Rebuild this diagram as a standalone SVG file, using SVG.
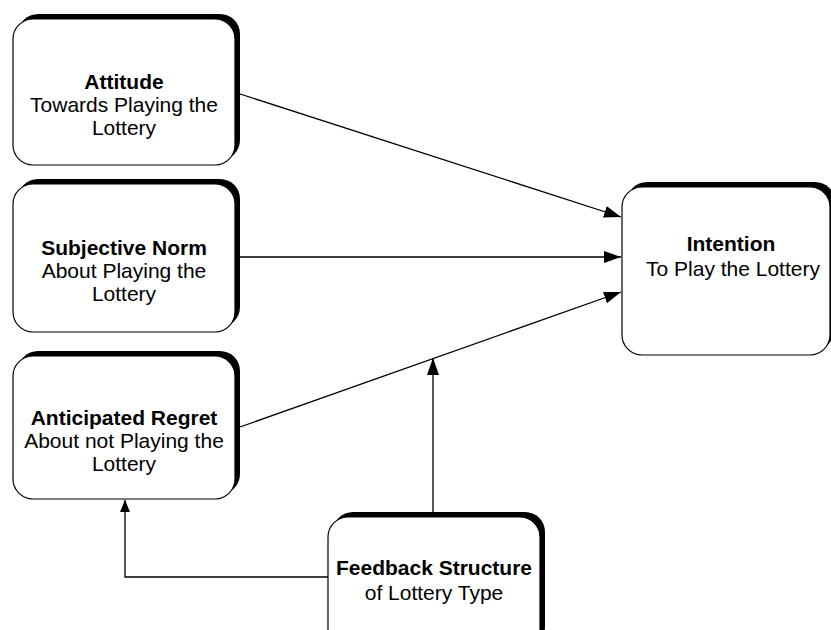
<svg xmlns="http://www.w3.org/2000/svg" width="831" height="630" viewBox="0 0 831 630">
<style>
.sh{fill:#000;}
.bx{fill:#fff;stroke:#000;stroke-width:1.2;}
.t{font-family:"Liberation Sans",Arial,sans-serif;font-size:21px;fill:#000;text-anchor:middle;}
.b{font-weight:bold;}
.ln{fill:none;stroke:#000;stroke-width:1.3;}
</style>
<defs>
<marker id="ah" markerUnits="userSpaceOnUse" markerWidth="18" markerHeight="14" refX="17" refY="6" orient="auto"><path d="M0,0 L17,6 L0,12 Z" fill="#000"/></marker>
<marker id="ahs" markerUnits="userSpaceOnUse" markerWidth="14" markerHeight="12" refX="12" refY="5" orient="auto"><path d="M0,0 L12,5 L0,10 Z" fill="#000"/></marker>
</defs>
<g id="connectors">
<line class="ln" x1="240" y1="94" x2="621" y2="217" marker-end="url(#ah)"/>
<line class="ln" x1="240" y1="257" x2="621" y2="257" marker-end="url(#ah)"/>
<line class="ln" x1="240" y1="427" x2="621" y2="292" marker-end="url(#ah)"/>
<line class="ln" x1="433" y1="512" x2="433" y2="358" marker-end="url(#ah)"/>
<polyline class="ln" points="328,577 125,577 125,500" marker-end="url(#ahs)"/>
</g>
<g id="attitude">
<rect class="sh" x="18" y="14" width="222" height="146" rx="20"/>
<rect class="bx" x="13" y="19" width="222" height="146" rx="20"/>
<text class="t b" x="124" y="89">Attitude</text>
<text class="t" x="124" y="112">Towards Playing the</text>
<text class="t" x="124" y="135">Lottery</text>
</g>
<g id="subjective-norm">
<rect class="sh" x="18" y="179" width="222" height="148" rx="20"/>
<rect class="bx" x="13" y="184" width="222" height="148" rx="20"/>
<text class="t b" x="124" y="255">Subjective Norm</text>
<text class="t" x="124" y="278">About Playing the</text>
<text class="t" x="124" y="301">Lottery</text>
</g>
<g id="anticipated-regret">
<rect class="sh" x="18" y="351" width="222" height="143" rx="20"/>
<rect class="bx" x="13" y="356" width="222" height="143" rx="20"/>
<text class="t b" x="124" y="425">Anticipated Regret</text>
<text class="t" x="124" y="448">About not Playing the</text>
<text class="t" x="124" y="471">Lottery</text>
</g>
<g id="intention">
<rect class="sh" x="627" y="182" width="208" height="167" rx="20"/>
<rect class="bx" x="622" y="187" width="208" height="168" rx="20"/>
<text class="t b" x="731" y="251">Intention</text>
<text class="t" x="733" y="276">To Play the Lottery</text>
</g>
<g id="feedback-structure">
<rect class="sh" x="333" y="512" width="212" height="135" rx="20"/>
<rect class="bx" x="328" y="517" width="212" height="135" rx="20"/>
<text class="t b" x="434" y="575">Feedback Structure</text>
<text class="t" x="434" y="600">of Lottery Type</text>
</g>
</svg>
